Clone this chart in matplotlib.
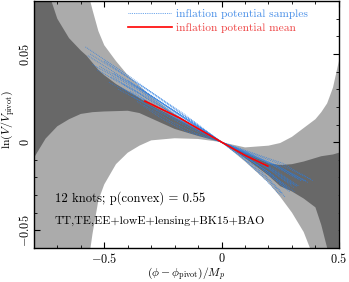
import numpy as np
import matplotlib
matplotlib.use('Agg')
import matplotlib.pyplot as plt

plt.rcParams['font.family'] = 'serif'
plt.rcParams['font.serif'] = ['cmr10']
plt.rcParams['mathtext.fontset'] = 'cm'
plt.rcParams['axes.formatter.use_mathtext'] = True
plt.rcParams['axes.unicode_minus'] = True

# band boundaries of ln(V/V_pivot)
PHI = [-0.80, -0.75, -0.70, -0.65, -0.60, -0.575, -0.55, -0.525, -0.50, -0.45,
       -0.40, -0.35, -0.30, -0.20, -0.10, 0.0, 0.10, 0.20, 0.25, 0.30, 0.35,
       0.40, 0.425, 0.45, 0.475, 0.50]
HI2 = [0.20, 0.17, 0.14, 0.115, 0.098, 0.088, 0.075, 0.063, 0.055, 0.046,
       0.038, 0.032, 0.026, 0.016, 0.0077, 0.0, -0.003, -0.002, -0.0005, 0.003, 0.008,
       0.013, 0.017, 0.022, 0.031, 0.046]
HI1 = [0.110, 0.090, 0.070, 0.059, 0.052, 0.049, 0.045, 0.041, 0.038, 0.033,
       0.029, 0.025, 0.021, 0.014, 0.007, 0.0, -0.006, -0.012, -0.013, -0.0125, -0.011,
       -0.009, -0.008, -0.0075, -0.007, -0.006]
LO1 = [-0.009, 0.002, 0.009, 0.013, 0.016, 0.0165, 0.017, 0.0172, 0.0174, 0.0176,
       0.0178, 0.0165, 0.0135, 0.0075, 0.0035, 0.0, -0.009, -0.019, -0.025, -0.028, -0.032,
       -0.037, -0.047, -0.060, -0.075, -0.09]
LO2 = [-0.30, -0.25, -0.20, -0.16, -0.10, -0.075, -0.052, -0.033, -0.024, -0.0125,
       -0.006, -0.002, 0.001, 0.0022, 0.0018, 0.0, -0.011, -0.023, -0.031, -0.040, -0.051,
       -0.068, -0.085, -0.10, -0.115, -0.13]

# a handful of potential samples
SAMPLE_PHI = [
    [-0.58, -0.40, -0.20, 0.0, 0.12, 0.24, 0.38],
    [-0.56, -0.38, -0.19, 0.0, 0.13, 0.26, 0.39],
    [-0.55, -0.36, -0.18, 0.0, 0.11, 0.22, 0.33],
    [-0.52, -0.35, -0.17, 0.0, 0.10, 0.20, 0.30],
    [-0.50, -0.33, -0.16, 0.0, 0.12, 0.24, 0.36],
    [-0.48, -0.32, -0.16, 0.0, 0.10, 0.19, 0.28],
    [-0.46, -0.31, -0.15, 0.0, 0.11, 0.21, 0.32],
    [-0.44, -0.30, -0.15, 0.0, 0.09, 0.18, 0.26],
    [-0.42, -0.28, -0.14, 0.0, 0.10, 0.20, 0.29],
    [-0.40, -0.27, -0.13, 0.0, 0.12, 0.23, 0.34],
    [-0.38, -0.25, -0.12, 0.0, 0.09, 0.18, 0.27],
    [-0.36, -0.24, -0.12, 0.0, 0.10, 0.20, 0.31],
    [-0.34, -0.23, -0.11, 0.0, 0.11, 0.22, 0.33],
    [-0.33, -0.22, -0.11, 0.0, 0.09, 0.17, 0.25],
    [-0.36, -0.25, -0.15, 0.0, 0.10, 0.19, 0.29],
    [-0.57, -0.39, -0.20, 0.0, 0.11, 0.23, 0.35],
    [-0.53, -0.36, -0.18, 0.0, 0.12, 0.25, 0.37],
    [-0.47, -0.31, -0.16, 0.0, 0.10, 0.21, 0.31],
    [-0.43, -0.29, -0.14, 0.0, 0.11, 0.22, 0.32],
    [-0.39, -0.26, -0.13, 0.0, 0.10, 0.19, 0.28],
]
SAMPLE_LNV = [
    [0.054, 0.038, 0.019, 0.0, -0.006, -0.012, -0.021],
    [0.050, 0.035, 0.018, 0.0, -0.006, -0.012, -0.022],
    [0.044, 0.030, 0.015, 0.0, -0.006, -0.013, -0.021],
    [0.043, 0.030, 0.015, 0.0, -0.007, -0.015, -0.024],
    [0.046, 0.031, 0.016, 0.0, -0.007, -0.014, -0.022],
    [0.034, 0.023, 0.011, 0.0, -0.008, -0.017, -0.027],
    [0.039, 0.027, 0.013, 0.0, -0.007, -0.015, -0.025],
    [0.030, 0.020, 0.010, 0.0, -0.008, -0.018, -0.029],
    [0.033, 0.022, 0.011, 0.0, -0.008, -0.017, -0.027],
    [0.035, 0.024, 0.012, 0.0, -0.007, -0.014, -0.022],
    [0.026, 0.016, 0.007, 0.0, -0.009, -0.019, -0.031],
    [0.032, 0.021, 0.010, 0.0, -0.008, -0.017, -0.028],
    [0.030, 0.020, 0.010, 0.0, -0.007, -0.015, -0.025],
    [0.021, 0.012, 0.005, 0.0, -0.009, -0.019, -0.030],
    [0.023, 0.013, 0.006, 0.0, -0.008, -0.017, -0.028],
    [0.049, 0.034, 0.017, 0.0, -0.006, -0.013, -0.022],
    [0.041, 0.028, 0.014, 0.0, -0.007, -0.014, -0.023],
    [0.037, 0.025, 0.012, 0.0, -0.007, -0.016, -0.026],
    [0.031, 0.021, 0.010, 0.0, -0.008, -0.016, -0.025],
    [0.029, 0.019, 0.009, 0.0, -0.008, -0.016, -0.026],
]

# mean potential
MEAN_PHI = [-0.327, -0.18, 0.0, 0.10, 0.197]
MEAN_LNV = [0.0233, 0.0138, 0.0, -0.0075, -0.0136]

LIGHT = '#ababab'
DARK = '#686868'
BLUE = '#2a7de1'

fig = plt.figure(figsize=(3.49, 2.82), dpi=100)
ax = fig.add_axes([0.097, 0.121, 0.874, 0.875])

ax.fill_between(PHI, LO2, HI2, color=LIGHT, lw=0, zorder=1)
ax.fill_between(PHI, LO1, HI1, color=DARK, lw=0, zorder=2)

for i, (p, v) in enumerate(zip(SAMPLE_PHI, SAMPLE_LNV)):
    ax.plot(p, v, color=BLUE, ls=(0, (1, 1.2)), lw=0.6, alpha=0.9, zorder=3,
            label='inflation potential samples' if i == 0 else None)

ax.plot(MEAN_PHI, MEAN_LNV, color='red', lw=1.2, zorder=4, label='inflation potential mean')

ax.set_xlim(-0.8, 0.5)
ax.set_ylim(-0.06, 0.08)
ax.set_xticks([-0.5, 0, 0.5])
ax.set_xticks(np.arange(-0.8, 0.51, 0.1), minor=True)
ax.set_yticks([-0.05, 0, 0.05])
ax.set_yticks(np.arange(-0.06, 0.081, 0.01), minor=True)
ax.set_xticklabels(['$-0.5$', '$0$', '$0.5$'])
ax.set_yticklabels(['$-0.05$', '$0$', '$0.05$'], rotation=90, va='center')
ax.tick_params(which='both', direction='in', top=True, right=True, labelsize=8.8)
ax.tick_params(which='major', length=4, width=0.8)
ax.tick_params(which='minor', length=2.5, width=0.6)
ax.tick_params(axis='x', pad=3)
ax.tick_params(axis='y', pad=1.5)
for s in ax.spines.values():
    s.set_linewidth(1.0)

ax.set_xlabel(r'$(\phi-\phi_{\rm pivot})/M_p$', fontsize=8.4)
ax.xaxis.label.set_va('center')
ax.xaxis.set_label_coords(0.5, -0.104)
ax.set_ylabel(r'$\ln(V/V_{\rm pivot})$', fontsize=8.5)
ax.yaxis.label.set_va('center')
ax.yaxis.set_label_coords(-0.083, 0.52)

ax.text(0.069, 0.202, '12 knots; p(convex) = 0.55', transform=ax.transAxes,
        fontsize=9.1, va='center', ha='left', zorder=5)
ax.text(0.069, 0.109, 'TT,TE,EE+lowE+lensing+BK15+BAO', transform=ax.transAxes,
        fontsize=8.5, va='center', ha='left', zorder=5)

leg = ax.legend(loc='upper left', bbox_to_anchor=(0.297, 0.982), frameon=False,
                fontsize=8.2, handlelength=3.9, handletextpad=0.3, labelspacing=0.35,
                borderpad=0.3, borderaxespad=0)
for t, c in zip(leg.get_texts(), ['#4a90e8', '#ee4444']):
    t.set_color(c)

fig.savefig('out.png', dpi=100)
